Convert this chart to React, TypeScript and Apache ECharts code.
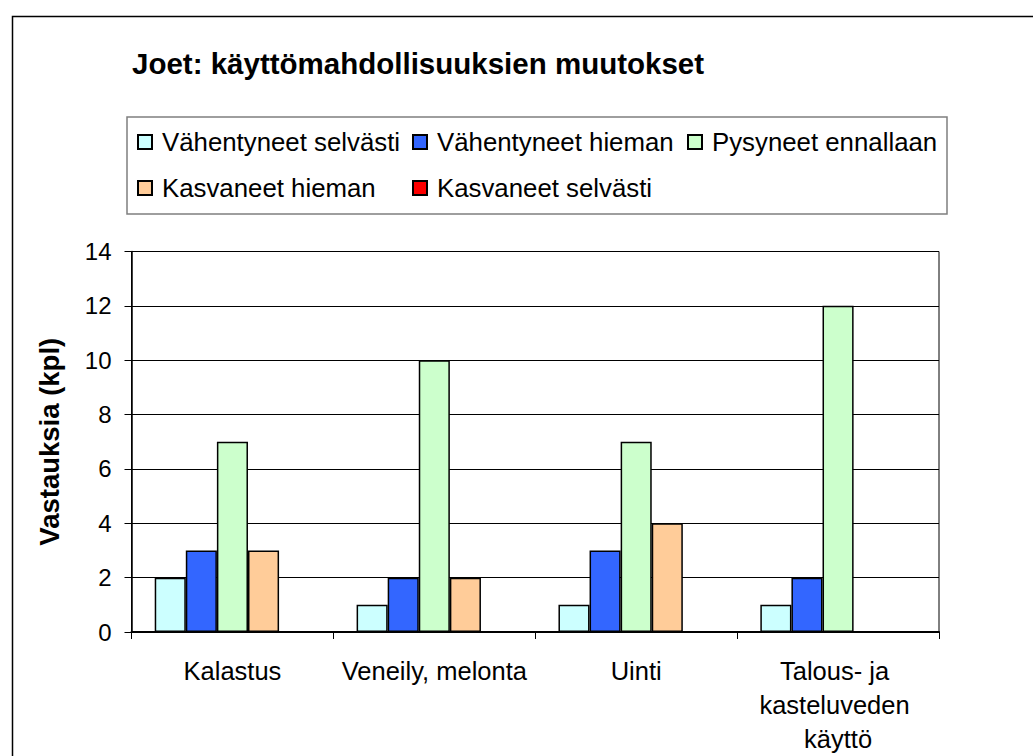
import React, { useEffect, useRef } from "react";
import * as echarts from "echarts";

const categories = ["Kalastus", "Veneily, melonta", "Uinti", "Talous- ja kasteluveden käyttö"];
const seriesNames = [
  "Vähentyneet selvästi",
  "Vähentyneet hieman",
  "Pysyneet ennallaan",
  "Kasvaneet hieman",
  "Kasvaneet selvästi",
];
const vahentyneetSelvasti = [2, 1, 1, 1];
const vahentyneetHieman = [3, 2, 3, 2];
const pysyneetEnnallaan = [7, 10, 7, 12];
const kasvaneetHieman = [3, 2, 4, 0];
const kasvaneetSelvasti = [0, 0, 0, 0];
const seriesValues = [vahentyneetSelvasti, vahentyneetHieman, pysyneetEnnallaan, kasvaneetHieman, kasvaneetSelvasti];
const colors = ["#CCFFFF", "#3366FF", "#CCFFCC", "#FFCC99", "#FF0000"];

const FONT = "'Liberation Sans', Arial, sans-serif";

export default function App() {
  const ref = useRef<HTMLDivElement>(null);
  useEffect(() => {
    if (!ref.current) return;
    const chart = echarts.init(ref.current, null, { renderer: "svg" });
    chart.setOption({
      animation: false,
      backgroundColor: "#ffffff",
      textStyle: { fontFamily: FONT, color: "#000" },
      title: {
        text: "Joet: käyttömahdollisuuksien muutokset",
        left: 132,
        top: 48,
        padding: 0,
        textStyle: { fontFamily: FONT, fontSize: 29.5, fontWeight: "bold", color: "#000" },
      },
      graphic: [
        {
          type: "rect",
          left: 10,
          top: 14,
          shape: { x: 0, y: 0, width: 1040, height: 760 },
          style: { fill: "none", stroke: "#000", lineWidth: 1.5 },
          silent: true,
          z: -1,
        },
        {
          type: "rect",
          shape: { x: 127, y: 117, width: 820, height: 97 },
          style: { fill: "none", stroke: "#7f7f7f", lineWidth: 1.5 },
          silent: true,
        },
      ],
      legend: {
        left: 137,
        top: 119,
        width: 830,
        padding: 0,
        itemGap: 0,
        itemWidth: 14,
        itemHeight: 14,
        icon: "rect",
        data: seriesNames,
        textStyle: {
          fontFamily: FONT,
          fontSize: 25.8,
          color: "#000",
          lineHeight: 46,
          width: 250,
          padding: [0, 0, 0, 5],
        },
      },
      grid: {
        left: 131.5,
        right: 94,
        top: 251.5,
        bottom: 123,
        show: true,
        borderColor: "#000",
        borderWidth: 1,
        containLabel: false,
      },
      xAxis: {
        type: "category",
        data: categories,
        axisLine: { lineStyle: { color: "#000", width: 2 } },
        axisTick: { show: true, length: 7, lineStyle: { color: "#000" } },
        axisLabel: {
          fontFamily: FONT,
          fontSize: 25.5,
          color: "#000",
          margin: 22,
          lineHeight: 34,
          width: 200,
          overflow: "break",
          interval: 0,
        },
      },
      yAxis: {
        type: "value",
        min: 0,
        max: 14,
        interval: 2,
        name: "Vastauksia (kpl)",
        nameLocation: "middle",
        nameRotate: 90,
        nameGap: 68,
        nameTextStyle: { fontFamily: FONT, fontSize: 27.5, fontWeight: "bold", color: "#000" },
        axisLine: { show: true, lineStyle: { color: "#000", width: 1.5 } },
        axisTick: { show: true, length: 7, lineStyle: { color: "#000" } },
        axisLabel: { fontFamily: FONT, fontSize: 24, color: "#000", margin: 20 },
        splitLine: { show: true, lineStyle: { color: "#000", width: 1 } },
      },
      series: seriesNames.map((name, i) => ({
        name,
        type: "bar",
        data: seriesValues[i],
        barGap: "0%",
        barCategoryGap: "23%",
        itemStyle: { color: colors[i], borderColor: "#000", borderWidth: 1.5 },
      })),
    });
    return () => chart.dispose();
  }, []);
  return <div ref={ref} style={{ width: 1033, height: 756, position: "absolute", left: 0, top: 0 }} />;
}
